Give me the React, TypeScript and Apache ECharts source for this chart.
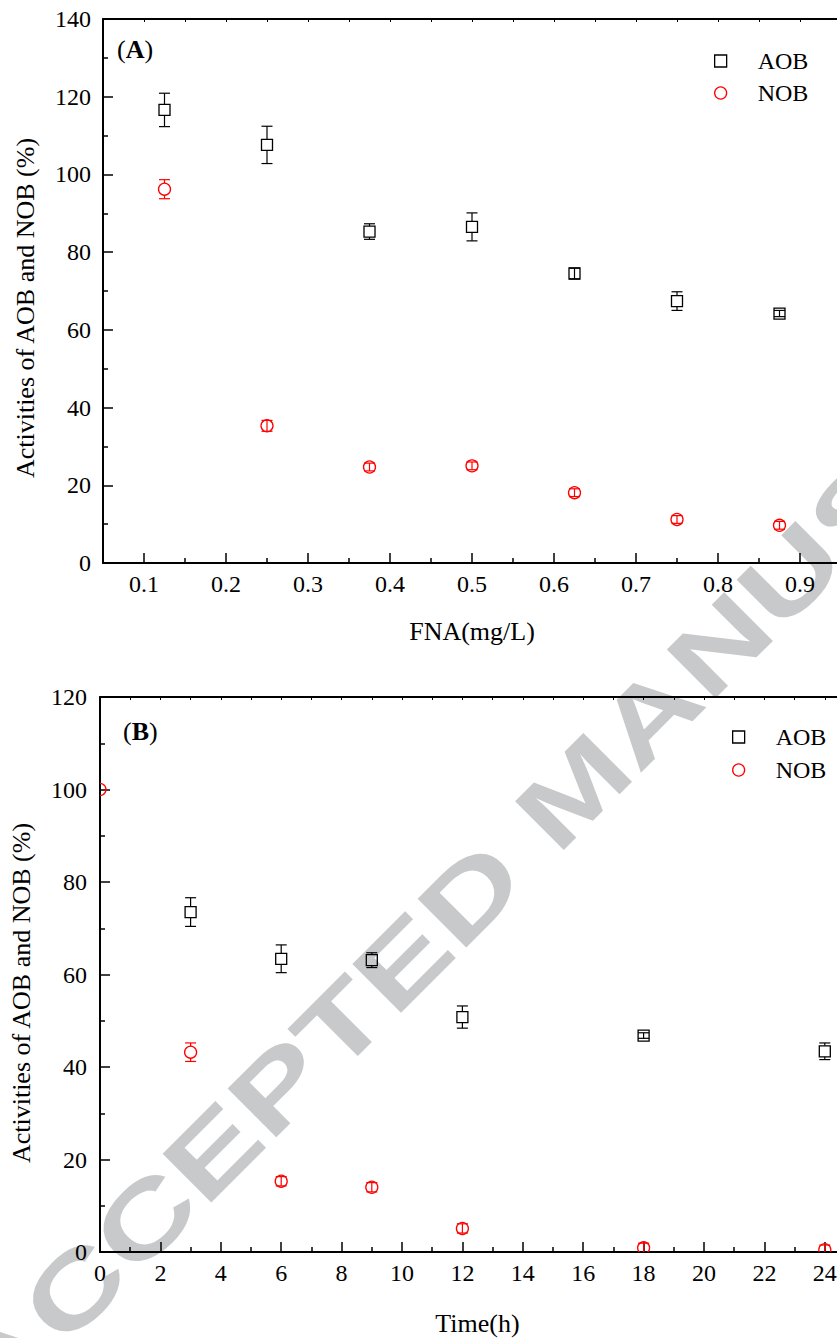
import React, { useEffect, useRef } from "react";
import * as echarts from "echarts";

// ---------- data ----------
const fnaLevels = [0.125, 0.25, 0.375, 0.5, 0.625, 0.75, 0.875];
const aobFna = [116.6, 107.6, 85.3, 86.5, 74.5, 67.4, 64.2];
const aobFnaErr = [4.3, 4.8, 2.0, 3.6, 1.4, 2.4, 0.8];
const nobFna = [96.2, 35.3, 24.7, 25.0, 18.1, 11.2, 9.7];
const nobFnaErr = [2.45, 1.4, 1.0, 1.0, 1.0, 1.0, 1.0];

const aobHours = [3, 6, 9, 12, 18, 24];
const aobTime = [73.5, 63.4, 63.1, 50.8, 46.8, 43.4];
const aobTimeErr = [3.1, 3.0, 1.6, 2.4, 0.6, 1.8];
const nobHours = [0, 3, 6, 9, 12, 18, 24];
const nobTime = [100, 43.2, 15.3, 14.0, 5.1, 0.9, 0.5];
const nobTimeErr = [0, 2.0, 1.0, 1.0, 1.0, 1.0, 1.0];

const fnaTickLabels = [0.1, 0.2, 0.3, 0.4, 0.5, 0.6, 0.7, 0.8, 0.9];
const fnaMinorTicks = [0.05, 0.15, 0.25, 0.35, 0.45, 0.55, 0.65, 0.75, 0.85, 0.95];

const seriesNames = ["AOB", "NOB"];
const yTitle = "Activities of AOB and NOB (%)";
const watermark = "ACCEPTED MANUSCRIPT";

// ---------- styles ----------
const serif = '"Liberation Serif", "Times New Roman", serif';
const black = "#000000";
const red = "#ff0000";
const axisLineStyle = { color: black, width: 2 };
const tickLine = { color: black, width: 1.5 };
const labelStyle = { fontFamily: serif, fontSize: 24, color: black };

function makeRenderer(shape: "rect" | "circle", color: string) {
  return (params: any, api: any) => {
    const x = api.value(0);
    const y = api.value(1);
    const e = api.value(2);
    const c = api.coord([x, y]);
    const hi = api.coord([x, y + e]);
    const lo = api.coord([x, y - e]);
    const r = shape === "rect" ? 5.5 : 6;
    const cap = 5.5;
    const st = { stroke: color, lineWidth: 1.2, fill: null };
    const children: any[] = [];
    if (e > 0) {
      const dHi = c[1] - hi[1];
      if (dHi > r) {
        children.push({ type: "line", shape: { x1: c[0], y1: hi[1], x2: c[0], y2: c[1] - r }, style: st });
        children.push({ type: "line", shape: { x1: c[0], y1: lo[1], x2: c[0], y2: c[1] + r }, style: st });
      } else {
        children.push({ type: "line", shape: { x1: c[0], y1: hi[1], x2: c[0], y2: lo[1] }, style: st });
      }
      children.push({ type: "line", shape: { x1: c[0] - cap, y1: hi[1], x2: c[0] + cap, y2: hi[1] }, style: st });
      children.push({ type: "line", shape: { x1: c[0] - cap, y1: lo[1], x2: c[0] + cap, y2: lo[1] }, style: st });
    }
    if (shape === "rect") {
      children.push({
        type: "rect",
        shape: { x: c[0] - r, y: c[1] - r, width: 2 * r, height: 2 * r },
        style: { stroke: color, lineWidth: 1.3, fill: null },
      });
    } else {
      children.push({
        type: "circle",
        shape: { cx: c[0], cy: c[1], r },
        style: { stroke: color, lineWidth: 1.3, fill: null },
      });
    }
    return { type: "group", children };
  };
}

function legendFor(left: number, top: number, gap: number) {
  return {
    orient: "vertical",
    left,
    top,
    padding: 0,
    itemGap: gap,
    itemWidth: 12,
    itemHeight: 12,
    selectedMode: false,
    textStyle: { ...labelStyle, lineHeight: 24, padding: [0, 0, 0, 26] },
    data: [
      { name: seriesNames[0], icon: "rect", itemStyle: { color: "rgba(0,0,0,0)", borderColor: black, borderWidth: 1.3 } },
      { name: seriesNames[1], icon: "circle", itemStyle: { color: "rgba(0,0,0,0)", borderColor: red, borderWidth: 1.3 } },
    ],
  };
}

function txt(text: string, x: number, y: number, extra: any = {}) {
  return {
    type: "text",
    x,
    y,
    z: 10,
    silent: true,
    ...extra,
    style: {
      text,
      fill: black,
      fontFamily: serif,
      fontSize: 26,
      textAlign: "center",
      align: "center",
      textVerticalAlign: "middle",
      verticalAlign: "middle",
      ...(extra.style || {}),
    },
  };
}

export default function App() {
  const ref = useRef<HTMLDivElement>(null);

  useEffect(() => {
    if (!ref.current) return;
    const chart = echarts.init(ref.current, undefined, { renderer: "svg" });

    const option: any = {
      animation: false,
      backgroundColor: "#ffffff",
      grid: [
        { left: 103, top: 19, width: 738, height: 544 },
        { left: 100, top: 697, width: 755, height: 555 },
      ],
      xAxis: [
        {
          gridIndex: 0,
          type: "value",
          position: "bottom",
          min: 0.05,
          max: 0.95,
          name: "FNA(mg/L)",
          nameLocation: "middle",
          nameGap: 55,
          nameTextStyle: { fontFamily: serif, fontSize: 26, color: black },
          axisLine: { show: true, onZero: false, lineStyle: axisLineStyle },
          axisTick: { show: true, inside: true, length: 10, customValues: fnaTickLabels, lineStyle: tickLine },
          axisLabel: {
            show: true,
            customValues: fnaTickLabels,
            formatter: (v: number) => v.toFixed(1),
            margin: 9,
            ...labelStyle,
          },
          splitLine: { show: false },
        },
        {
          gridIndex: 0,
          type: "value",
          position: "bottom",
          min: 0.05,
          max: 0.95,
          axisLine: { show: false },
          axisTick: { show: true, inside: true, length: 5, customValues: fnaMinorTicks, lineStyle: tickLine },
          axisLabel: { show: false },
          splitLine: { show: false },
        },
        {
          gridIndex: 0,
          type: "value",
          position: "top",
          min: 0.05,
          max: 0.95,
          interval: 0.05,
          axisLine: { show: true, onZero: false, lineStyle: axisLineStyle },
          axisTick: { show: true, inside: true, length: 3, lineStyle: { color: black, width: 1 } },
          axisLabel: { show: false },
          splitLine: { show: false },
        },
        {
          gridIndex: 1,
          type: "value",
          position: "bottom",
          min: 0,
          max: 25,
          interval: 2,
          name: "Time(h)",
          nameLocation: "middle",
          nameGap: 58,
          nameTextStyle: { fontFamily: serif, fontSize: 26, color: black },
          axisLine: { show: true, onZero: false, lineStyle: axisLineStyle },
          axisTick: { show: true, inside: true, length: 10, lineStyle: tickLine },
          minorTick: { show: true, splitNumber: 2, length: 5, lineStyle: tickLine },
          axisLabel: { show: true, margin: 9, ...labelStyle },
          splitLine: { show: false },
          minorSplitLine: { show: false },
        },
        {
          gridIndex: 1,
          type: "value",
          position: "top",
          min: 0,
          max: 25,
          interval: 1,
          axisLine: { show: true, onZero: false, lineStyle: axisLineStyle },
          axisTick: { show: true, inside: true, length: 3, lineStyle: { color: black, width: 1 } },
          axisLabel: { show: false },
          splitLine: { show: false },
        },
      ],
      yAxis: [
        {
          gridIndex: 0,
          type: "value",
          min: 0,
          max: 140,
          interval: 20,
          axisLine: { show: true, onZero: false, lineStyle: axisLineStyle },
          axisTick: { show: true, inside: true, length: 10, lineStyle: tickLine },
          minorTick: { show: true, splitNumber: 2, length: 5, lineStyle: tickLine },
          axisLabel: { show: true, margin: 12, ...labelStyle },
          splitLine: { show: false },
          minorSplitLine: { show: false },
        },
        {
          gridIndex: 1,
          type: "value",
          min: 0,
          max: 120,
          interval: 20,
          axisLine: { show: true, onZero: false, lineStyle: axisLineStyle },
          axisTick: { show: true, inside: true, length: 10, lineStyle: tickLine },
          minorTick: { show: true, splitNumber: 2, length: 5, lineStyle: tickLine },
          axisLabel: { show: true, margin: 13, ...labelStyle },
          splitLine: { show: false },
          minorSplitLine: { show: false },
        },
      ],
      legend: [legendFor(714, 49, 8), legendFor(732, 725, 9)],
      series: [
        {
          name: seriesNames[0],
          type: "custom",
          xAxisIndex: 0,
          yAxisIndex: 0,
          clip: true,
          z: 5,
          dimensions: ["x", "y", "err"],
          encode: { x: 0, y: 1 },
          itemStyle: { color: black },
          renderItem: makeRenderer("rect", black),
          data: fnaLevels.map((x, i) => [x, aobFna[i], aobFnaErr[i]]),
        },
        {
          name: seriesNames[1],
          type: "custom",
          xAxisIndex: 0,
          yAxisIndex: 0,
          clip: true,
          z: 5,
          dimensions: ["x", "y", "err"],
          encode: { x: 0, y: 1 },
          itemStyle: { color: red },
          renderItem: makeRenderer("circle", red),
          data: fnaLevels.map((x, i) => [x, nobFna[i], nobFnaErr[i]]),
        },
        {
          name: seriesNames[0],
          type: "custom",
          xAxisIndex: 3,
          yAxisIndex: 1,
          clip: true,
          z: 5,
          dimensions: ["x", "y", "err"],
          encode: { x: 0, y: 1 },
          itemStyle: { color: black },
          renderItem: makeRenderer("rect", black),
          data: aobHours.map((x, i) => [x, aobTime[i], aobTimeErr[i]]),
        },
        {
          name: seriesNames[1],
          type: "custom",
          xAxisIndex: 3,
          yAxisIndex: 1,
          clip: true,
          z: 5,
          dimensions: ["x", "y", "err"],
          encode: { x: 0, y: 1 },
          itemStyle: { color: red },
          renderItem: makeRenderer("circle", red),
          data: nobHours.map((x, i) => [x, nobTime[i], nobTimeErr[i]]),
        },
      ],
      graphic: {
        elements: [
          {
            type: "text",
            x: -31,
            y: 1396,
            rotation: Math.PI / 4,
            scaleX: 1.38,
            scaleY: 1,
            z: -10,
            silent: true,
            style: {
              text: watermark,
              fill: "#c8c9cb",
              fontFamily: '"Liberation Sans", Arial, sans-serif',
              fontWeight: "bold",
              fontSize: 100,
              textAlign: "left",
              align: "left",
              textVerticalAlign: "middle",
              verticalAlign: "middle",
            },
          },
          txt(yTitle, 25, 308, { rotation: Math.PI / 2 }),
          txt(yTitle, 21, 993, { rotation: Math.PI / 2 }),
          {
            type: "text",
            x: 117,
            y: 49,
            z: 10,
            silent: true,
            style: {
              text: "{p|(}{b|A}{p|)}",
              textAlign: "left",
              align: "left",
              textVerticalAlign: "middle",
              verticalAlign: "middle",
              rich: {
                p: { fontFamily: serif, fontSize: 26, fill: black },
                b: { fontFamily: serif, fontSize: 26, fontWeight: "bold", fill: black },
              },
            },
          },
          {
            type: "text",
            x: 123,
            y: 731,
            z: 10,
            silent: true,
            style: {
              text: "{p|(}{b|B}{p|)}",
              textAlign: "left",
              align: "left",
              textVerticalAlign: "middle",
              verticalAlign: "middle",
              rich: {
                p: { fontFamily: serif, fontSize: 26, fill: black },
                b: { fontFamily: serif, fontSize: 26, fontWeight: "bold", fill: black },
              },
            },
          },
        ],
      },
    };

    chart.setOption(option);
    return () => chart.dispose();
  }, []);

  return (
    <div style={{ position: "absolute", left: 0, top: 0, width: 837, height: 1338, overflow: "hidden", background: "#fff" }}>
      <div ref={ref} style={{ width: 900, height: 1338 }} />
    </div>
  );
}
